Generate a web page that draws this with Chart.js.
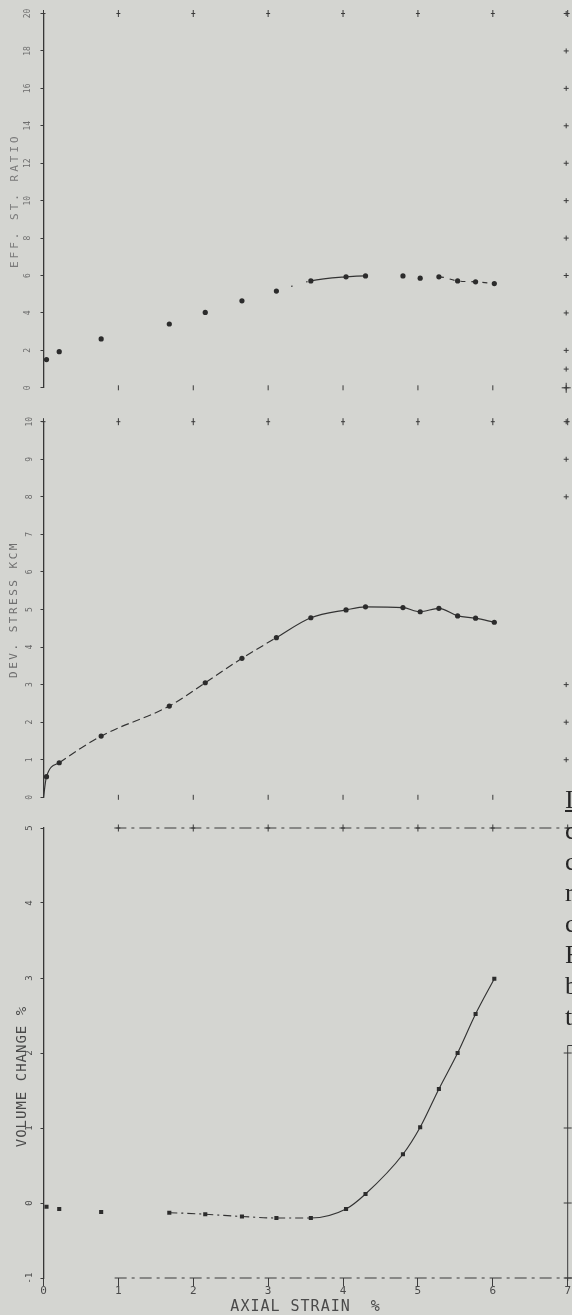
<!DOCTYPE html>
<html>
<head>
<meta charset="utf-8">
<script src="https://cdn.jsdelivr.net/npm/chart.js@4/dist/chart.umd.min.js"></script>
<style>
  html, body { margin: 0; padding: 0; background: #d4d5d1; }
  body { width: 572px; height: 1315px; position: relative; overflow: hidden; }
  canvas { position: absolute; left: 0; }
  #margin {
    position: absolute; left: 565px; top: 784px;
    font-family: "Liberation Serif", serif; font-size: 26px; line-height: 31px;
    color: #262626; white-space: nowrap;
  }
</style>
</head>
<body>
<canvas id="ratio" width="572" height="400" style="top:0px"></canvas>
<canvas id="stress" width="572" height="410" style="top:400px"></canvas>
<canvas id="volume" width="572" height="505" style="top:810px"></canvas>
<div id="margin"><u>I</u><br>c<br>c<br>r<br>c<br>F<br>b<br>t</div>
<script>
// Triaxial test record: axial strain (%) against three measured responses.
const strainPct       = [0.04, 0.21, 0.77, 1.68, 2.16, 2.65, 3.11, 3.57, 4.04, 4.30, 4.80, 5.03, 5.28, 5.53, 5.77, 6.02];
const effStressRatio  = [1.51, 1.93, 2.61, 3.41, 4.03, 4.65, 5.17, 5.71, 5.93, 5.98, 5.98, 5.86, 5.93, 5.71, 5.66, 5.57];
const devStressKcm    = [0.55, 0.92, 1.63, 2.43, 3.05, 3.70, 4.25, 4.78, 4.99, 5.07, 5.05, 4.94, 5.03, 4.83, 4.77, 4.66];
const volumeChangePct = [-0.05, -0.08, -0.12, -0.13, -0.15, -0.18, -0.20, -0.20, -0.08, 0.12, 0.65, 1.01, 1.52, 2.00, 2.52, 2.99];

const strainTicks = [0, 1, 2, 3, 4, 5, 6, 7];
const ratioTicks  = [0, 2, 4, 6, 8, 10, 12, 14, 16, 18, 20];
const stressTicks = [0, 1, 2, 3, 4, 5, 6, 7, 8, 9, 10];
const volumeTicks = [-1, 0, 1, 2, 3, 4, 5];

const MONO = '"DejaVu Sans Mono", monospace';
const INK = '#333333';

const toPoints = ys => strainPct.map((x, i) => ({ x, y: ys[i] }));

// Plotter border marks: small crosses along the frame, dash-dot rules.
const plotterMarks = {
  id: 'plotterMarks',
  beforeDraw(chart, args, o) {
    // axis titles are lettered with wide spacing; tick labels (drawn later) are not
    chart.ctx.letterSpacing = o.letterSpacing || '0px';
  },
  afterDatasetsDraw(chart) {
    chart.ctx.letterSpacing = '0px';
  },
  afterDraw(chart, args, o) {
    const { ctx, chartArea: a } = chart;
    const x = chart.scales.x, y = chart.scales.y;
    ctx.save();
    ctx.strokeStyle = o.color || '#3a3a3a';
    ctx.lineWidth = 1;
    const cross = (px, py, h, v) => {
      ctx.beginPath();
      if (h) { ctx.moveTo(px - h, py); ctx.lineTo(px + h, py); }
      if (v) { ctx.moveTo(px, py - v); ctx.lineTo(px, py + v); }
      ctx.stroke();
    };
    const rule = (x0, y0, x1, y1, dash) => {
      ctx.save();
      ctx.setLineDash(dash || []);
      ctx.beginPath(); ctx.moveTo(x0, y0); ctx.lineTo(x1, y1); ctx.stroke();
      ctx.restore();
    };
    if (o.topRule) {
      rule(x.getPixelForValue(o.topRule.from) - 4, a.top, chart.width, a.top, [12, 5, 3, 5]);
    }
    if (o.bottomRule) {
      rule(x.getPixelForValue(o.bottomRule.from), a.bottom, chart.width, a.bottom, [12, 5, 3, 5]);
    }
    (o.top || []).forEach(v => cross(x.getPixelForValue(v), a.top, 2, 3.5));
    (o.bottom || []).forEach(v => cross(x.getPixelForValue(v), a.bottom, 0, 2.5));
    (o.right || []).forEach(v => cross(a.right - 1.5, y.getPixelForValue(v), 2.5, 2.5));
    if (o.corner) cross(a.right - 1.5, a.bottom, 4.5, 5);
    if (o.rightRule) {
      const yt = y.getPixelForValue(o.rightRule.from);
      rule(a.right, yt, a.right, a.bottom + 3);
      rule(a.right, yt, chart.width, yt);
      o.rightRule.marks.forEach(v => cross(a.right, y.getPixelForValue(v), 4, 0));
    }
    ctx.restore();
  }
};

// Segment styling by strain range: [from, to, dash or null for solid]
function segmentStyle(ranges) {
  const find = c => ranges.find(r => c.p0.parsed.x >= r[0] && c.p0.parsed.x < r[1]);
  return {
    borderColor: c => (find(c) ? INK : 'rgba(0,0,0,0)'),
    borderDash: c => { const r = find(c); return r && r[2] ? r[2] : []; }
  };
}

function panel(id, cfg) {
  const yScale = {
    type: 'linear', min: cfg.ticks[0], max: cfg.ticks[cfg.ticks.length - 1],
    afterFit: s => { s.width = 43.5; },
    afterBuildTicks: s => { s.ticks = cfg.ticks.map(v => ({ value: v })); },
    ticks: {
      z: 1, autoSkip: false, minRotation: 90, maxRotation: 90, crossAlign: 'center',
      padding: cfg.tickPad, color: cfg.labelColor,
      font: { family: MONO, size: cfg.tickSize }
    },
    grid: { drawOnChartArea: false, drawTicks: true, tickLength: 3, color: '#3c3c3c' },
    border: { display: true, color: '#363636', width: 1.3 },
    title: {
      display: true, text: cfg.title, color: cfg.titleColor,
      font: { family: MONO, size: cfg.titleSize },
      padding: { top: cfg.titlePad, bottom: 0 }
    }
  };
  const xScale = {
    type: 'linear', min: 0, max: 7, display: !!cfg.xAxis,
    afterBuildTicks: s => { s.ticks = strainTicks.map(v => ({ value: v })); },
    afterFit: s => { if (cfg.xAxis) s.height = cfg.xAxis.height; },
    ticks: {
      z: 1, autoSkip: false, maxRotation: 0, padding: 0, color: '#4a4a4a',
      font: { family: MONO, size: 11, lineHeight: 1 }
    },
    grid: { drawOnChartArea: false, drawTicks: true, tickLength: 8, color: '#3c3c3c' },
    border: { display: false },
    title: {
      display: !!cfg.xAxis, text: 'AXIAL STRAIN  %', color: '#4a4a4a',
      font: { family: MONO, size: 15, lineHeight: 1 },
      padding: { top: 0, bottom: 0 }
    }
  };
  return new Chart(document.getElementById(id), {
    type: 'scatter',
    data: {
      datasets: [
        {
          data: toPoints(cfg.values), showLine: false,
          pointStyle: cfg.pointStyle, pointRadius: cfg.pointRadius,
          pointBackgroundColor: '#2c2c2c', pointBorderWidth: 0
        },
        {
          data: (cfg.curveStart || []).concat(toPoints(cfg.values)), showLine: true,
          pointRadius: 0, borderColor: INK, borderWidth: 1.15,
          cubicInterpolationMode: 'monotone',
          segment: segmentStyle(cfg.segments)
        }
      ]
    },
    options: {
      responsive: false, animation: false, devicePixelRatio: 1,
      layout: { padding: cfg.padding },
      plugins: { legend: { display: false }, tooltip: { enabled: false }, plotterMarks: cfg.marks },
      scales: { x: xScale, y: yScale }
    },
    plugins: [plotterMarks]
  });
}

panel('ratio', {
  values: effStressRatio, ticks: ratioTicks,
  title: 'EFF. ST. RATIO', titleSize: 11, titlePad: 8.4, titleColor: '#7a7a7a',
  tickSize: 8, tickPad: 7.4, labelColor: '#6e6e6e',
  pointStyle: 'circle', pointRadius: 2.6,
  segments: [[3.0, 3.5, [1.5, 14]], [3.5, 4.2, null], [5.2, 6.1, [5, 6]]],
  padding: { top: 13.5, bottom: 11, left: 0, right: 4.3 },
  marks: { letterSpacing: '3px', top: strainTicks, bottom: [1, 2, 3, 4, 5, 6], right: ratioTicks.concat([1]), corner: true }
});

panel('stress', {
  values: devStressKcm, ticks: stressTicks,
  title: 'DEV. STRESS KCM', titleSize: 11, titlePad: 7.4, titleColor: '#6e6e6e',
  tickSize: 8, tickPad: 6.2, labelColor: '#686868',
  pointStyle: 'circle', pointRadius: 2.6,
  curveStart: [{ x: 0, y: 0 }],
  segments: [[-1, 0.2, null], [0.2, 3.1, [8, 4]], [3.1, 7, null]],
  padding: { top: 21.7, bottom: 12.7, left: 0, right: 4.3 },
  marks: { letterSpacing: '2.5px', top: strainTicks, bottom: [1, 2, 3, 4, 5, 6], right: [10, 9, 8, 3, 2, 1] }
});

panel('volume', {
  values: volumeChangePct, ticks: volumeTicks,
  title: 'VOLUME CHANGE %     ', titleSize: 14, titlePad: 13.5, titleColor: '#4a4a4a',
  tickSize: 9, tickPad: 5.6, labelColor: '#4d4d4d',
  pointStyle: 'rect', pointRadius: 2.9,
  segments: [[1.6, 3.5, [8, 4, 2, 4]], [3.5, 7, null]],
  padding: { top: 18, bottom: 0, left: 0, right: 4.3 },
  xAxis: { height: 37 },
  marks: {
    letterSpacing: '1px',
    topRule: { from: 1 }, bottomRule: { from: 0.95 },
    top: [1, 2, 3, 4, 5, 6, 7],
    rightRule: { from: 2.1, marks: [2, 1, 0, -1] }
  }
});
</script>
</body>
</html>
